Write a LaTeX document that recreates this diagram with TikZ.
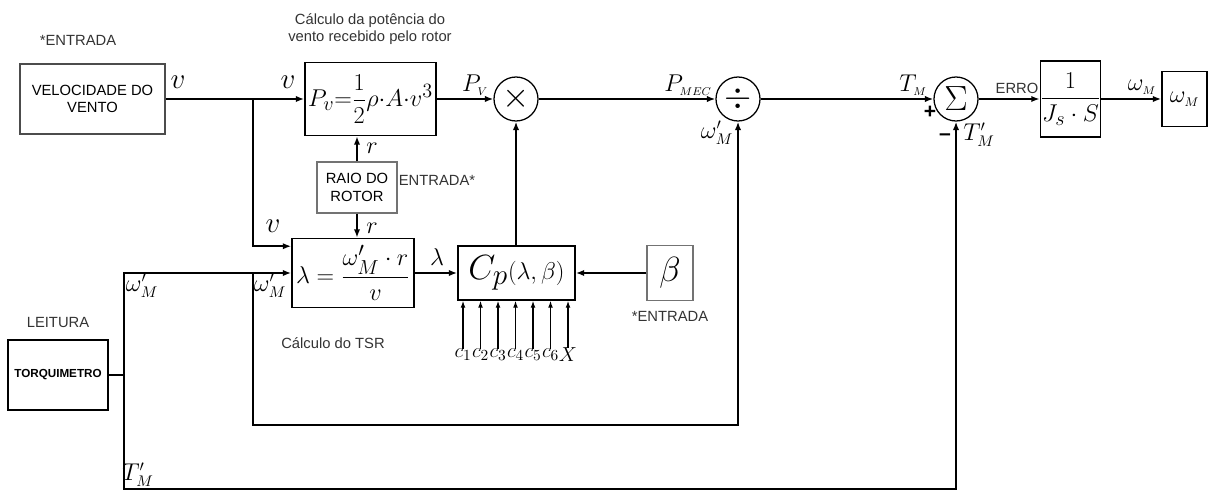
\documentclass[tikz,border=0pt]{standalone}
\usepackage[no-math]{fontspec}
\setmainfont{Liberation Sans}
\usepackage{amsmath}
\usetikzlibrary{positioning,arrows.meta,calc}

\begin{document}
\begin{tikzpicture}[x=0.025cm,y=-0.025cm,
  box/.style={draw,line width=1pt,inner sep=0pt,align=center,
              font=\fontsize{10.5}{12.5}\selectfont},
  gbox/.style={box,draw=black!55},
  op/.style={draw,circle,line width=0.9pt,minimum size=1.1cm,inner sep=0pt},
  txt/.style={font=\fontsize{10.5}{12.5}\selectfont,text=black!80,align=center,inner sep=1pt},
  sig/.style={font=\fontsize{16}{18}\selectfont,inner sep=1pt},
  big/.style={font=\fontsize{22}{24}\selectfont,inner sep=1pt},
  arr/.style={-{Latex[length=6pt,width=4.5pt]},line width=1.4pt},
  wire/.style={line width=1.4pt},
  inarr/.style={-{Latex[length=5pt,width=3.5pt]},line width=0.9pt}
]
\useasboundingbox (0,0) rectangle (1209,491);

% Inputs
\node[box,draw=black!70,minimum width=3.625cm,minimum height=1.75cm] (vel) at (92.5,99) {VELOCIDADE DO\\VENTO};
\node[txt] (entv) at (78,40) {*ENTRADA};
\node[box,minimum width=2.5cm,minimum height=1.75cm,font=\fontsize{8.3}{10}\selectfont\bfseries] (torq) at (58,375) {TORQUIMETRO};
\node[txt] (leit) at (58,322) {LEITURA};

% Wind power
\node[box,minimum width=3.275cm,minimum height=1.825cm,font=\fontsize{19}{21}\selectfont] (pv) at (370.5,99) {$P_{v}{=}\dfrac{1}{2}\rho{\cdot}A{\cdot}v^{3}$};
\node[txt] (tpv) at (370,29) {Cálculo da potência do\\vento recebido pelo rotor};
\node[gbox,minimum width=2cm,minimum height=1.275cm] (raio) at (357,187.5) {RAIO DO\\ROTOR};
\node[txt] (entr) at (437,180) {ENTRADA*};

% TSR
\node[box,minimum width=3.05cm,minimum height=1.725cm,font=\fontsize{19}{21}\selectfont] (lam) at (353,273) {$\lambda=\dfrac{\omega_M'\cdot r}{v}$};
\node[txt] (ttsr) at (333,343) {Cálculo do TSR};

% Power coefficient
\node[box,minimum width=2.925cm,minimum height=1.35cm] (cp) at (516.5,273) {\fontsize{28}{30}\selectfont$C_{p}$\fontsize{19}{21}\selectfont$(\lambda,\beta)$};
\node[gbox,minimum width=1.15cm,minimum height=1.375cm,font=\fontsize{24}{26}\selectfont] (beta) at (670,273) {$\beta$};
\node[txt] (entb) at (670,316) {*ENTRADA};

% Operators
\node[op,font=\fontsize{26}{28}\selectfont] (mul) at (516,99) {$\times$};
\node[op,font=\fontsize{26}{28}\selectfont] (dvd) at (738,99) {$\div$};
\node[op,font=\fontsize{24}{26}\selectfont] (sum) at (956,99) {$\Sigma$};

% Mechanical side
\node[box,minimum width=1.425cm,minimum height=1.9cm,font=\fontsize{19}{21}\selectfont] (js) at (1070.5,99) {$\dfrac{1}{J_s\cdot S}$};
\node[box,minimum width=1.125cm,minimum height=1.375cm,font=\fontsize{19}{21}\selectfont] (wout) at (1184.5,99) {$\omega_{\scriptscriptstyle M}$};

% Junctions
\coordinate (jv) at (253,99);
\coordinate (jt) at (124,375);
\coordinate (jw) at (253,273);
\coordinate (bl) at (124,489);
\coordinate (il) at (253,425);

% Arrows
\draw[arr] (vel.east) -- (pv.west);
\draw[arr] (jv) |- ($(lam.north west)!0.12!(lam.south west)$);
\draw[arr] (pv.east) -- (mul.west);
\draw[arr] (mul.east) -- (dvd.west);
\draw[arr] (dvd.east) -- (sum.west);
\draw[arr] (sum.east) -- (js.west);
\draw[arr] (js.east) -- (wout.west);
\draw[arr] (raio.north) -- (raio.north |- pv.south);
\draw[arr] (raio.south) -- (raio.south |- lam.north);
\draw[arr] (lam.east) -- (cp.west);
\draw[arr] (mul |- cp.north) -- (mul.south);
\draw[arr] (beta.west) -- (cp.east);

% Feedback from the torque meter
\draw[wire] (torq.east) -- (jt);
\draw[arr] (jt) |- (lam.west);
\draw[arr] (jw) -- (il) -| (dvd.south);
\draw[arr] (jt) -- (bl) -| (sum.south);

% Coefficient inputs
\foreach \lab [count=\i] in {c_1,c_2,c_3,c_4,c_5,c_6,X} {
  \node[sig,font=\fontsize{15}{17}\selectfont,inner sep=0pt] (in\i) at ({463+17.5*(\i-1)},355) {$\lab$};
  \draw[inarr] (in\i.north) -- (in\i.north |- cp.south);
}

% Signal labels
\node[big] (lv1) at (178,82) {$v$};
\node[big] (lv2) at (288,82) {$v$};
\node[big] (lv3) at (273,226) {$v$};
\node[sig] (lr1) at (372,148) {$r$};
\node[sig] (lr2) at (372,228) {$r$};
\node[sig] (lpv) at (475,85) {$P_{\scriptscriptstyle V}$};
\node[sig] (lpm) at (688,85) {$P_{\scriptscriptstyle MEC}$};
\node[sig] (lwd) at (717,133) {$\omega_M'$};
\node[sig] (ltm) at (913,85) {$T_{\scriptscriptstyle M}$};
\node[sig,font=\fontsize{15}{17}\selectfont\bfseries] (lpl) at (930,112) {+};
\node[sig,font=\fontsize{15}{17}\selectfont\bfseries] (lmi) at (945,137) {–};
\node[sig] (ltm2) at (979,135) {$T_M'$};
\node[txt] (lerr) at (1017,88) {ERRO};
\node[sig] (lwm) at (1142,87) {$\omega_{\scriptscriptstyle M}$};
\node[big,font=\fontsize{19}{21}\selectfont] (llam) at (437,257) {$\lambda$};
\node[sig] (lw1) at (142,286) {$\omega_M'$};
\node[sig] (lw2) at (270,286) {$\omega_M'$};
\node[sig] (ltb) at (138,475) {$T_M'$};
\end{tikzpicture}
\end{document}
